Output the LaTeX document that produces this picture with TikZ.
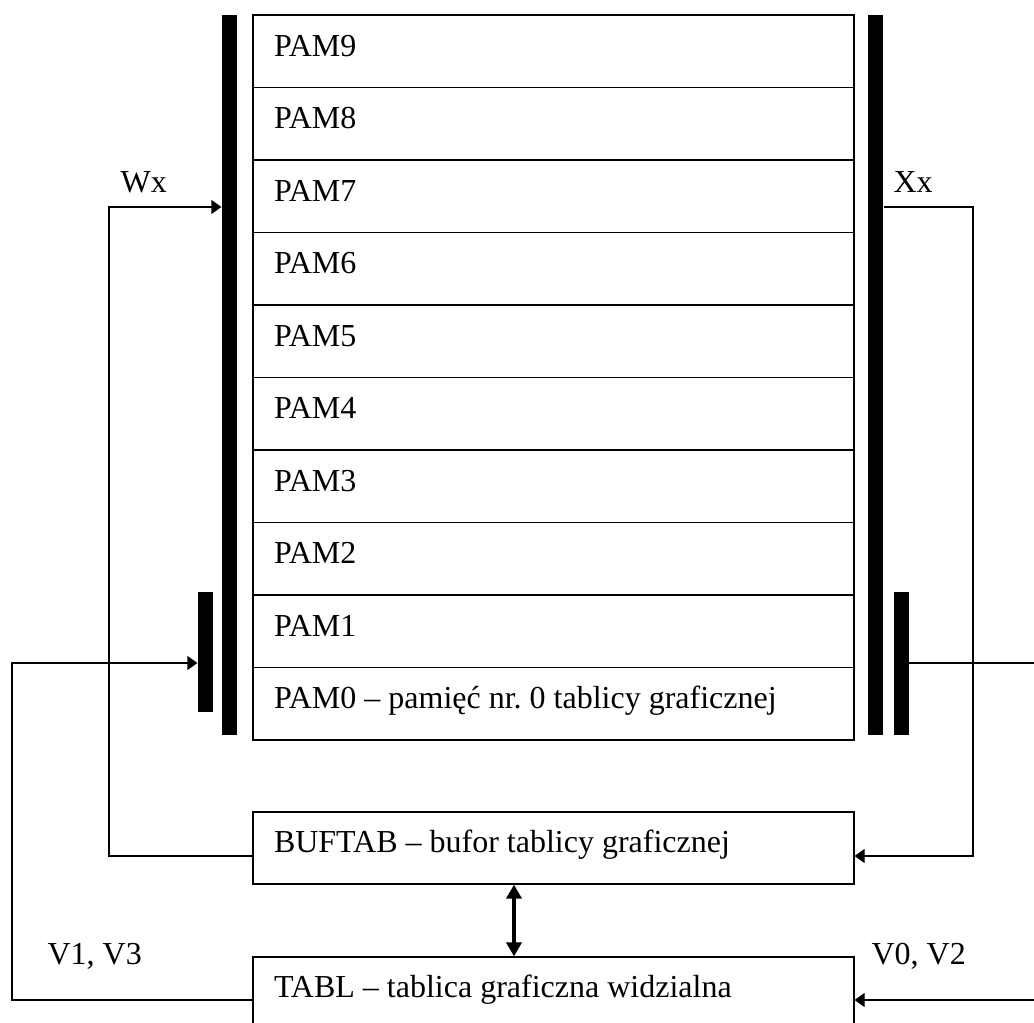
\documentclass[tikz,border=0pt]{standalone}
\usepackage{fontspec}
\setmainfont{Liberation Serif}
\usepackage{tikz}
\usetikzlibrary{arrows.meta, calc}
\frenchspacing

\begin{document}
\begin{tikzpicture}[x=0.5pt, y=-0.5pt, line width=0.6pt,
    every node/.style={font=\fontsize{16}{19}\selectfont},
    cell/.style={draw, rectangle, inner xsep=10.5pt, inner ysep=0pt, text width=279.5pt, align=flush left,
      minimum height=36.25pt, text height=12pt, text depth=7.25pt},
    bus/.style={fill=black, rectangle, inner sep=0pt, minimum width=7.5pt},
    tag/.style={anchor=base west, inner sep=0pt},
    feed/.style={-{Triangle[length=5pt, width=7pt]}}]
  \clip (0,0) rectangle (1034,1023);
  % memory pages
  \node (pam0) [cell] at (553.5,703.75) {PAM0 -- pamięć nr. 0 tablicy graficznej};
  \foreach \i in {1,...,9}
    \node (pam\i) [cell] at (553.5, {15+72.5*(9-\i)+36.25}) {PAM\i};
  % buses
  \node (lbus) [bus, minimum height=360pt] at (229.5,375) {};
  \node (rbus) [bus, minimum height=360pt] at (875.5,375) {};
  \node (lshort) [bus, minimum height=60pt] at (205.5,652) {};
  \node (rshort) [bus, minimum height=71.5pt] at (901,663.5) {};
  % buffer and visible table
  \node (buftab) [cell, minimum height=36pt] at (553.5,848) {BUFTAB -- bufor tablicy graficznej};
  \node (tabl) [cell, minimum height=36pt] at (553.5,993) {TABL -- tablica graficzna widzialna};
  % labels
  \node (wx) [tag] at (120,192) {Wx};
  \node (xx) [tag] at (893,192) {Xx};
  \node (v13) [tag] at (47,964) {V1, V3};
  \node (v02) [tag] at (871,964) {V0, V2};
  \coordinate (wtop) at (109,207);
  \coordinate (xtop) at (973,207);
  \coordinate (vleft) at (12,663);
  \coordinate (vright) at (1045,663);
  % connections
  \draw [feed] ([yshift=-4pt]buftab.west) -| (wtop) -- (lbus.west |- wtop);
  \draw [feed] (rbus.east |- xtop) -- (xtop) |- ([yshift=-4pt]buftab.east);
  \draw [feed] ([yshift=-3.5pt]tabl.west) -| (vleft) -- (lshort.west |- vleft);
  \draw [feed] (rshort.east |- vright) -- (vright) |- ([yshift=-3.5pt]tabl.east);
  \draw [{Triangle[length=7pt, width=7.5pt]}-{Triangle[length=7pt, width=7.5pt]}, line width=2.2pt]
    (buftab.south -| 514,0) -- (tabl.north -| 514,0);
\end{tikzpicture}
\end{document}
